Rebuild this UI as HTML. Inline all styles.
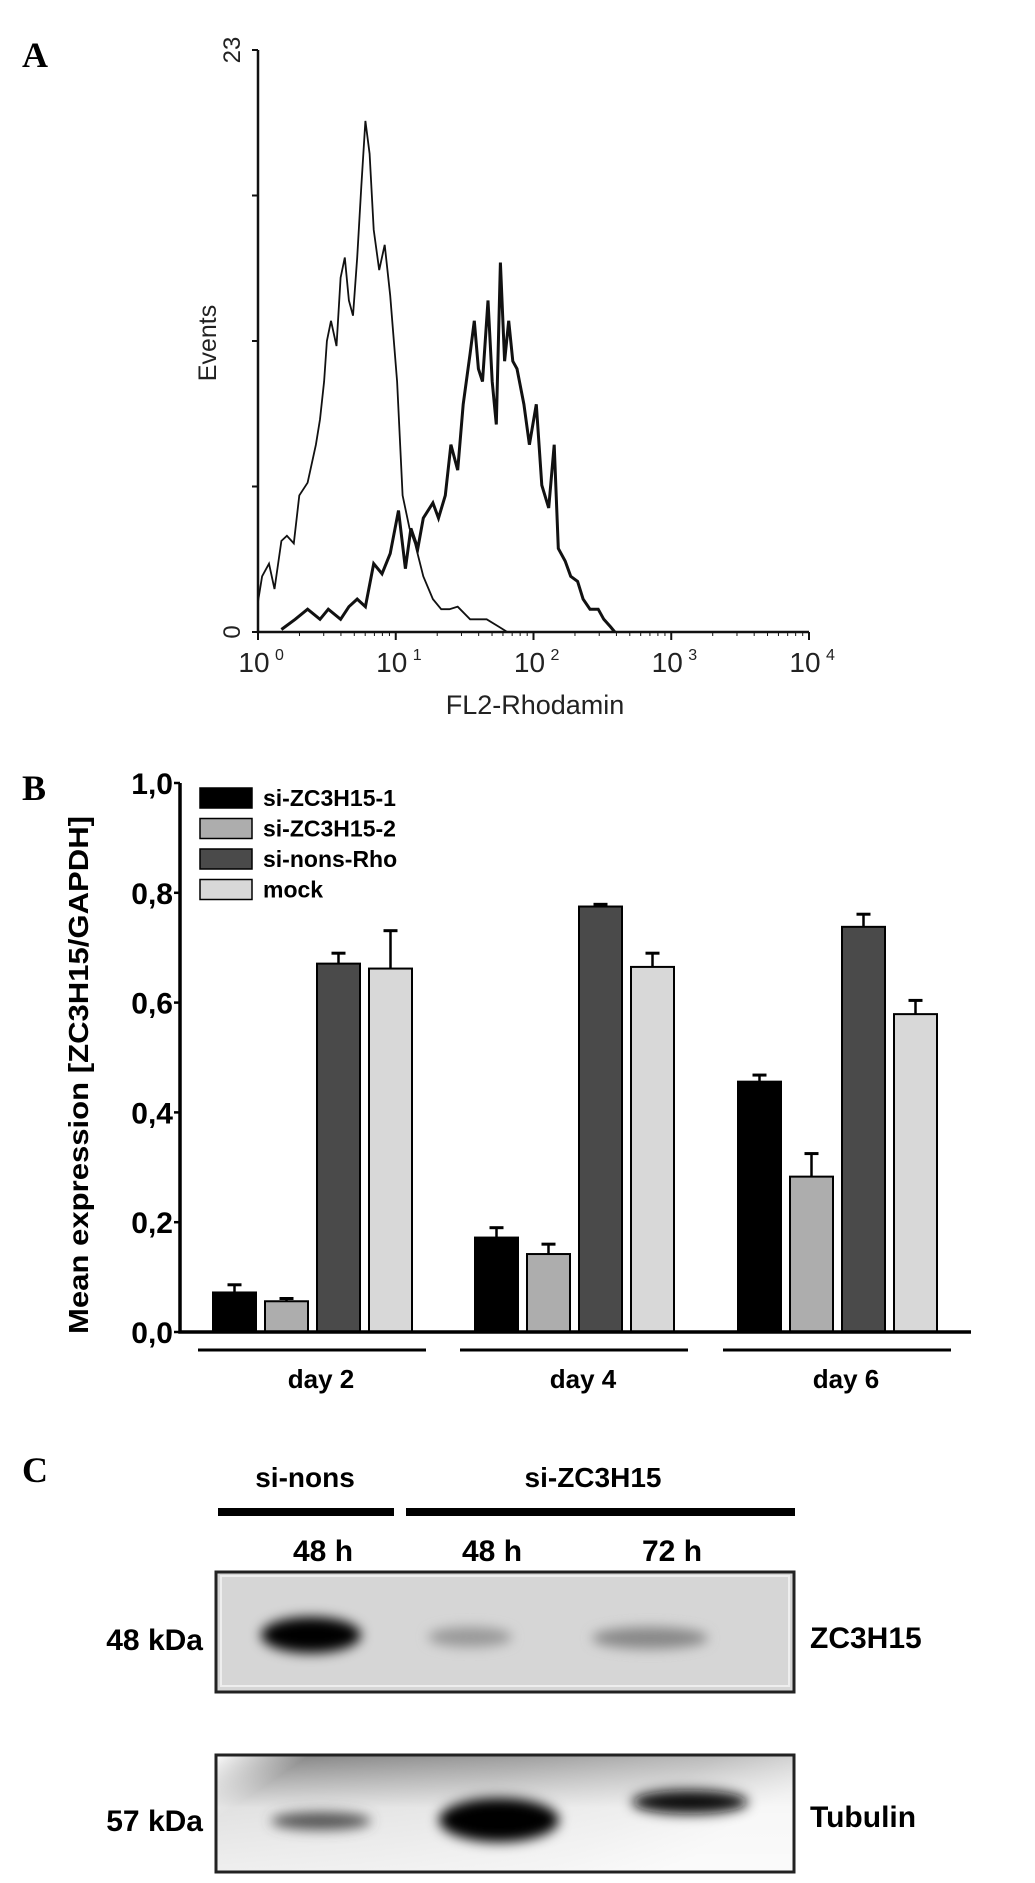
<!DOCTYPE html>
<html><head><meta charset="utf-8"><style>
html,body{margin:0;padding:0;background:#fff;}
svg{display:block;font-family:"Liberation Sans",sans-serif;}
</style></head><body>
<svg id="fig" width="1035" height="1883" viewBox="0 0 1035 1883" xmlns="http://www.w3.org/2000/svg">
<defs>
<filter id="blur6" x="-50%" y="-100%" width="200%" height="300%"><feGaussianBlur stdDeviation="6"/></filter>
<filter id="blur10" x="-50%" y="-100%" width="200%" height="300%"><feGaussianBlur stdDeviation="10"/></filter>
<linearGradient id="tubBg" x1="0" y1="0" x2="1" y2="0.3">
<stop offset="0" stop-color="#fff"/><stop offset="0.15" stop-color="#8a8a8a"/><stop offset="0.5" stop-color="#a0a0a0"/><stop offset="0.8" stop-color="#bdbdbd"/><stop offset="1" stop-color="#e0e0e0"/>
</linearGradient>
<linearGradient id="tubFade" x1="0" y1="0" x2="0" y2="1">
<stop offset="0" stop-color="#fff" stop-opacity="0"/><stop offset="0.45" stop-color="#fff" stop-opacity="0.75"/><stop offset="1" stop-color="#fff" stop-opacity="0.85"/>
</linearGradient>
</defs>

<!-- Panel letters -->
<text x="22" y="67" font-family="Liberation Serif,serif" font-weight="bold" font-size="36">A</text>
<text x="22" y="800" font-family="Liberation Serif,serif" font-weight="bold" font-size="36">B</text>
<text x="22" y="1482" font-family="Liberation Serif,serif" font-weight="bold" font-size="36">C</text>

<g id="panelA"></g>
<g id="panelB"></g>

<!-- Panel C: western blot -->
<g>
<text x="305" y="1487" text-anchor="middle" font-weight="bold" font-size="28">si-nons</text>
<text x="593" y="1487" text-anchor="middle" font-weight="bold" font-size="28">si-ZC3H15</text>
<rect x="218" y="1508" width="176" height="8" fill="#000"/>
<rect x="406" y="1508" width="389" height="8" fill="#000"/>
<text x="323" y="1561" text-anchor="middle" font-weight="bold" font-size="30">48 h</text>
<text x="492" y="1561" text-anchor="middle" font-weight="bold" font-size="30">48 h</text>
<text x="672" y="1561" text-anchor="middle" font-weight="bold" font-size="30">72 h</text>

<g>
<rect x="216" y="1572" width="578" height="120" fill="#d6d6d6" stroke="#222" stroke-width="3"/>
<rect x="221" y="1576" width="568" height="110" fill="none" stroke="#eee" stroke-width="2"/>
<ellipse cx="311" cy="1635" rx="50" ry="18" fill="#000" filter="url(#blur6)"/>
<ellipse cx="470" cy="1637" rx="42" ry="10" fill="#999" filter="url(#blur6)"/>
<ellipse cx="650" cy="1638" rx="58" ry="11" fill="#888" filter="url(#blur6)"/>
</g>
<text x="203" y="1650" text-anchor="end" font-weight="bold" font-size="30">48 kDa</text>
<text x="810" y="1648" font-weight="bold" font-size="30">ZC3H15</text>

<g>
<rect x="216" y="1755" width="578" height="117" fill="url(#tubBg)" stroke="#222" stroke-width="3"/>
<rect x="217.5" y="1756.5" width="575" height="114" fill="url(#tubFade)"/>
<ellipse cx="321" cy="1821" rx="50" ry="9" fill="#555" filter="url(#blur6)"/>
<ellipse cx="499" cy="1820" rx="60" ry="22" fill="#000" filter="url(#blur6)"/>
<ellipse cx="690" cy="1802" rx="58" ry="12" fill="#111" filter="url(#blur6)"/>
</g>
<text x="203" y="1831" text-anchor="end" font-weight="bold" font-size="30">57 kDa</text>
<text x="810" y="1827" font-weight="bold" font-size="30">Tubulin</text>
</g>
</svg>

<script>
// ---------- Panel A data (flow cytometry histograms) ----------
const histTicksY = ["0", "23"];
const histDecades = [0, 1, 2, 3, 4];
const controlLog = [0,0.03,0.08,0.12,0.17,0.21,0.26,0.30,0.36,0.42,0.45,0.48,0.50,0.53,0.57,0.60,0.63,0.66,0.69,0.72,0.75,0.78,0.81,0.84,0.88,0.92,0.96,1.01,1.05,1.10,1.14,1.20,1.27,1.33,1.39,1.45,1.54,1.66,1.75,1.81];
const controlEvents = [1.2,2.2,2.7,1.7,3.6,3.8,3.5,5.4,5.9,7.4,8.4,9.9,11.5,12.3,11.3,14.0,14.8,13.1,12.5,14.8,17.6,20.2,18.9,15.9,14.3,15.3,13.3,9.9,5.4,4.1,3.5,2.2,1.3,0.9,0.9,1.0,0.5,0.5,0.2,0];
const stainedLog = [0.17,0.27,0.36,0.45,0.51,0.60,0.66,0.72,0.78,0.84,0.90,0.96,1.02,1.07,1.11,1.16,1.20,1.27,1.31,1.36,1.40,1.45,1.49,1.54,1.57,1.60,1.63,1.67,1.70,1.73,1.76,1.79,1.82,1.85,1.88,1.93,1.97,2.02,2.06,2.11,2.15,2.18,2.23,2.27,2.32,2.36,2.41,2.47,2.51,2.56,2.59];
const stainedEvents = [0.1,0.5,0.9,0.5,0.9,0.5,1.0,1.3,1.0,2.7,2.3,3.1,4.8,2.5,4.1,3.3,4.5,5.1,4.5,5.4,7.4,6.4,9.0,11.0,12.3,10.4,9.9,13.1,9.9,8.2,14.6,10.7,12.3,10.7,10.4,9.0,7.4,9.0,5.8,4.9,7.4,3.3,2.8,2.2,2.0,1.3,0.9,0.9,0.5,0.2,0];

// ---------- Panel B data (bar chart) ----------
const days = ["day 2", "day 4", "day 6"];
const seriesNames = ["si-ZC3H15-1", "si-ZC3H15-2", "si-nons-Rho", "mock"];
const valSi1 = [0.072, 0.172, 0.456];
const errSi1 = [0.014, 0.018, 0.012];
const valSi2 = [0.056, 0.142, 0.283];
const errSi2 = [0.005, 0.018, 0.042];
const valNons = [0.671, 0.775, 0.738];
const errNons = [0.019, 0.004, 0.023];
const valMock = [0.662, 0.665, 0.579];
const errMock = [0.069, 0.025, 0.025];
const barTickLabels = ["0,0", "0,2", "0,4", "0,6", "0,8", "1,0"];
const barTickValues = [0, 0.2, 0.4, 0.6, 0.8, 1.0];

const NS = "http://www.w3.org/2000/svg";
function mk(tag, attrs, parent, txt) {
  const e = document.createElementNS(NS, tag);
  for (const k in attrs) e.setAttribute(k, attrs[k]);
  if (txt !== undefined) e.textContent = txt;
  parent.appendChild(e);
  return e;
}

// ---------- Panel A drawing ----------
(function () {
  const g = document.getElementById("panelA");
  const x0 = 258, x1 = 809, yTop = 50, yBot = 632, maxEv = 23;
  const xs = l => x0 + l / 4 * (x1 - x0);
  const ys = v => yBot - v / maxEv * (yBot - yTop);
  const ax = mk("path", { d: `M${x0},${yTop} L${x0},${yBot} L${x1},${yBot}`, fill: "none", stroke: "#111", "stroke-width": 2.5 }, g);
  
  
  for (let i = 0; i <= 4; i++) {
    const y = ys(maxEv * i / 4);
    const t = mk("line", { x1: x0 - 6, x2: x0, y1: y, y2: y, stroke: "#111", "stroke-width": 2 }, g);
    
    
  }
  [0, 1].forEach(i => {
    const v = i === 0 ? 0 : maxEv;
    const tl = mk("text", { x: 0, y: 0, transform: `translate(240,${ys(v)}) rotate(-90)`, "text-anchor": "middle", "font-size": 24, fill: "#222" }, g, histTicksY[i]);
    
    
  });
  histDecades.forEach((d, i) => {
    const x = xs(d);
    const t = mk("line", { x1: x, x2: x, y1: yBot, y2: yBot + 8, stroke: "#111", "stroke-width": 2 }, g);
    
    
    if (i < 4) for (let m = 2; m < 10; m++) {
      const xm = xs(d + Math.log10(m));
      const mt = mk("line", { x1: xm, x2: xm, y1: yBot, y2: yBot + 4, stroke: "#111", "stroke-width": 1 }, g);
      
      
    }
    const lab = mk("text", { x: x - 4, y: 672, "text-anchor": "middle", "font-size": 28, fill: "#222" }, g, "10");
    
    
    const sup = mk("text", { x: x + 17, y: 660, "font-size": 16, fill: "#222" }, g, String(d));
    
    
  });
  const yt = mk("text", { transform: "translate(216,343) rotate(-90)", "text-anchor": "middle", "font-size": 25, fill: "#222" }, g, "Events");
  
  
  const xt = mk("text", { x: 535, y: 714, "text-anchor": "middle", "font-size": 27, fill: "#222" }, g, "FL2-Rhodamin");
  
  
  function line(L, V, w, name) {
    let d = "";
    L.forEach((l, i) => { d += (i ? " L" : "M") + xs(l).toFixed(1) + "," + ys(V[i]).toFixed(1); });
    const p = mk("path", { d: d, fill: "none", stroke: "#111", "stroke-width": w, "stroke-linejoin": "miter" }, g);
    
    
  }
  line(controlLog, controlEvents, 1.8, 'control-histogram');
  line(stainedLog, stainedEvents, 3, 'rhodamine-histogram');
})();

// ---------- Panel B drawing ----------
(function () {
  const g = document.getElementById("panelB");
  const ax0 = 180, axEnd = 971, y0 = 1332, y1 = 783;
  const ys = v => y0 - v * (y0 - y1);
  const groupStart = [213, 475, 738];
  const barW = 43, pitch = 52;
  const fills = ["#000", "#adadad", "#4a4a4a", "#d8d8d8"];
  const vals = [valSi1, valSi2, valNons, valMock];
  const errs = [errSi1, errSi2, errNons, errMock];
  const names = ['bar-si-zc3h15-1', 'bar-si-zc3h15-2', 'bar-si-nons-rho', 'bar-mock'];
  days.forEach((d, gi) => {
    vals.forEach((arr, si) => {
      const x = groupStart[gi] + si * pitch;
      const top = ys(arr[gi]);
      const eTop = ys(arr[gi] + errs[si][gi]);
      const cx = x + barW / 2;
      const el = mk("line", { x1: cx, x2: cx, y1: top, y2: eTop, stroke: "#000", "stroke-width": 2.5 }, g);
      
      
      const ec = mk("line", { x1: cx - 7, x2: cx + 7, y1: eTop, y2: eTop, stroke: "#000", "stroke-width": 3 }, g);
      
      
      const r = mk("rect", { x: x, y: top, width: barW, height: y0 - top, fill: fills[si], stroke: "#000", "stroke-width": 2 }, g);
      
      
    });
    const gl = mk("line", { x1: groupStart[gi] - 15, x2: groupStart[gi] + 213, y1: 1350, y2: 1350, stroke: "#000", "stroke-width": 3 }, g);
    
    
    const gt = mk("text", { x: groupStart[gi] + 108, y: 1388, "text-anchor": "middle", "font-size": 26, "font-weight": "bold" }, g, d);
    
    
  });
  const axes = mk("path", { d: `M${ax0},${y1} L${ax0},${y0} L${axEnd},${y0}`, fill: "none", stroke: "#000", "stroke-width": 3.5 }, g);
  
  
  barTickValues.forEach((v, i) => {
    const y = ys(v);
    const t = mk("line", { x1: ax0 - 6, x2: ax0, y1: y, y2: y, stroke: "#000", "stroke-width": 2.5 }, g);
    
    
    const tl = mk("text", { x: 173, y: y + 11, "text-anchor": "end", "font-size": 30, "font-weight": "bold" }, g, barTickLabels[i]);
    
    
  });
  const yt = mk("text", { transform: "translate(88,1075) rotate(-90)", "text-anchor": "middle", "font-size": 28, "font-weight": "bold", textLength: 518, lengthAdjust: "spacingAndGlyphs" }, g, "Mean expression [ZC3H15/GAPDH]");
  
  
  seriesNames.forEach((n, i) => {
    const cy = 798 + i * 30.5;
    const sw = mk("rect", { x: 200, y: cy - 10, width: 52, height: 20, fill: fills[i], stroke: "#000", "stroke-width": 1.5 }, g);
    
    
    const lt = mk("text", { x: 263, y: cy + 8, "font-size": 23, "font-weight": "bold" }, g, n);
    
    
  });
})();
</script>
</body></html>
